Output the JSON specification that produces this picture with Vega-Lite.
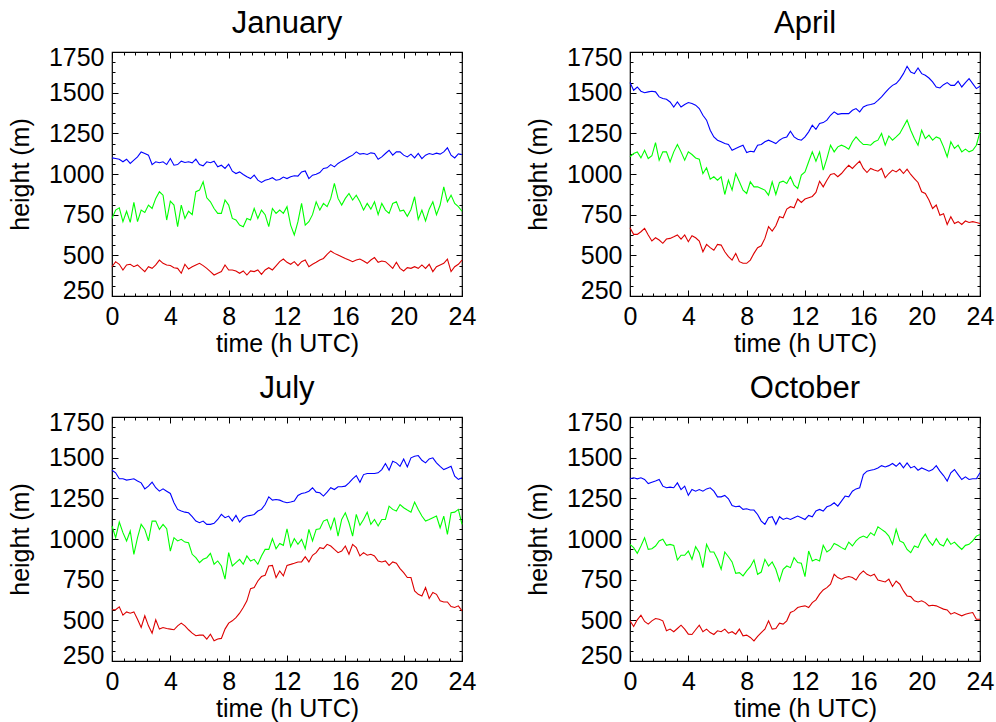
{
"$schema": "https://vega.github.io/schema/vega-lite/v6.json",
"background": "white",
"padding": {"left": 7, "top": 7, "right": 5, "bottom": 0},
"bounds": "flush",
"columns": 2,
"spacing": {"row": 121, "column": 168},
"config": {
 "font": "Liberation Sans",
 "view": {"stroke": "black", "strokeWidth": 1.2},
 "title": {"font": "Liberation Sans", "fontSize": 31, "fontWeight": "normal", "color": "black", "anchor": "middle", "frame": "group", "offset": 5},
 "axis": {"domain": false, "grid": false, "tickColor": "black", "tickWidth": 1, "labelFont": "Liberation Sans", "labelFontSize": 25, "labelColor": "black", "titleFont": "Liberation Sans", "titleFontSize": 25, "titleFontWeight": "normal", "titleColor": "black", "format": "d"}
},
"data": {"values": [
{"m":"Jan","t":0,"b":1099,"g":727,"r":430},{"m":"Jan","t":0.25,"b":1095,"g":778,"r":461},{"m":"Jan","t":0.5,"b":1091,"g":792,"r":445},{"m":"Jan","t":0.75,"b":1075,"g":707,"r":410},{"m":"Jan","t":1,"b":1091,"g":771,"r":441},{"m":"Jan","t":1.25,"b":1065,"g":703,"r":445},{"m":"Jan","t":1.5,"b":1085,"g":825,"r":430},{"m":"Jan","t":1.75,"b":1105,"g":707,"r":441},{"m":"Jan","t":2,"b":1136,"g":778,"r":420},{"m":"Jan","t":2.25,"b":1126,"g":764,"r":400},{"m":"Jan","t":2.5,"b":1116,"g":809,"r":430},{"m":"Jan","t":2.75,"b":1058,"g":788,"r":420},{"m":"Jan","t":3,"b":1075,"g":850,"r":441},{"m":"Jan","t":3.25,"b":1069,"g":891,"r":471},{"m":"Jan","t":3.5,"b":1075,"g":870,"r":451},{"m":"Jan","t":3.75,"b":1058,"g":717,"r":441},{"m":"Jan","t":4,"b":1095,"g":833,"r":437},{"m":"Jan","t":4.25,"b":1054,"g":809,"r":424},{"m":"Jan","t":4.5,"b":1058,"g":676,"r":420},{"m":"Jan","t":4.75,"b":1079,"g":809,"r":390},{"m":"Jan","t":5,"b":1071,"g":727,"r":445},{"m":"Jan","t":5.25,"b":1075,"g":771,"r":416},{"m":"Jan","t":5.5,"b":1069,"g":750,"r":430},{"m":"Jan","t":5.75,"b":1091,"g":891,"r":441},{"m":"Jan","t":6,"b":1058,"g":901,"r":451},{"m":"Jan","t":6.25,"b":1050,"g":952,"r":437},{"m":"Jan","t":6.5,"b":1075,"g":854,"r":420},{"m":"Jan","t":6.75,"b":1069,"g":829,"r":400},{"m":"Jan","t":7,"b":1079,"g":788,"r":379},{"m":"Jan","t":7.25,"b":1044,"g":758,"r":390},{"m":"Jan","t":7.5,"b":1054,"g":758,"r":400},{"m":"Jan","t":7.75,"b":1034,"g":840,"r":441},{"m":"Jan","t":8,"b":1060,"g":809,"r":410},{"m":"Jan","t":8.25,"b":1017,"g":727,"r":410},{"m":"Jan","t":8.5,"b":1003,"g":717,"r":404},{"m":"Jan","t":8.75,"b":1013,"g":686,"r":390},{"m":"Jan","t":9,"b":997,"g":676,"r":404},{"m":"Jan","t":9.25,"b":983,"g":727,"r":379},{"m":"Jan","t":9.5,"b":972,"g":717,"r":404},{"m":"Jan","t":9.75,"b":993,"g":788,"r":400},{"m":"Jan","t":10,"b":962,"g":727,"r":410},{"m":"Jan","t":10.25,"b":948,"g":778,"r":383},{"m":"Jan","t":10.5,"b":962,"g":750,"r":410},{"m":"Jan","t":10.75,"b":968,"g":676,"r":424},{"m":"Jan","t":11,"b":977,"g":788,"r":410},{"m":"Jan","t":11.25,"b":962,"g":758,"r":435},{"m":"Jan","t":11.5,"b":966,"g":778,"r":461},{"m":"Jan","t":11.75,"b":981,"g":758,"r":477},{"m":"Jan","t":12,"b":972,"g":799,"r":457},{"m":"Jan","t":12.25,"b":983,"g":686,"r":445},{"m":"Jan","t":12.5,"b":989,"g":625,"r":461},{"m":"Jan","t":12.75,"b":987,"g":707,"r":437},{"m":"Jan","t":13,"b":1013,"g":819,"r":461},{"m":"Jan","t":13.25,"b":1019,"g":686,"r":471},{"m":"Jan","t":13.5,"b":972,"g":707,"r":430},{"m":"Jan","t":13.75,"b":993,"g":750,"r":445},{"m":"Jan","t":14,"b":999,"g":829,"r":457},{"m":"Jan","t":14.25,"b":1009,"g":778,"r":471},{"m":"Jan","t":14.5,"b":1034,"g":819,"r":481},{"m":"Jan","t":14.75,"b":1038,"g":799,"r":506},{"m":"Jan","t":15,"b":1058,"g":850,"r":527},{"m":"Jan","t":15.25,"b":1044,"g":942,"r":512},{"m":"Jan","t":15.5,"b":1065,"g":850,"r":502},{"m":"Jan","t":15.75,"b":1079,"g":809,"r":492},{"m":"Jan","t":16,"b":1091,"g":850,"r":481},{"m":"Jan","t":16.25,"b":1105,"g":880,"r":471},{"m":"Jan","t":16.5,"b":1116,"g":840,"r":461},{"m":"Jan","t":16.75,"b":1136,"g":870,"r":471},{"m":"Jan","t":17,"b":1122,"g":829,"r":477},{"m":"Jan","t":17.25,"b":1126,"g":778,"r":465},{"m":"Jan","t":17.5,"b":1120,"g":819,"r":451},{"m":"Jan","t":17.75,"b":1130,"g":784,"r":471},{"m":"Jan","t":18,"b":1126,"g":829,"r":486},{"m":"Jan","t":18.25,"b":1091,"g":750,"r":457},{"m":"Jan","t":18.5,"b":1105,"g":819,"r":465},{"m":"Jan","t":18.75,"b":1126,"g":778,"r":461},{"m":"Jan","t":19,"b":1146,"g":758,"r":441},{"m":"Jan","t":19.25,"b":1116,"g":819,"r":420},{"m":"Jan","t":19.5,"b":1136,"g":829,"r":457},{"m":"Jan","t":19.75,"b":1136,"g":772,"r":420},{"m":"Jan","t":20,"b":1116,"g":778,"r":404},{"m":"Jan","t":20.25,"b":1105,"g":740,"r":424},{"m":"Jan","t":20.5,"b":1122,"g":782,"r":420},{"m":"Jan","t":20.75,"b":1099,"g":860,"r":430},{"m":"Jan","t":21,"b":1126,"g":721,"r":420},{"m":"Jan","t":21.25,"b":1095,"g":778,"r":441},{"m":"Jan","t":21.5,"b":1116,"g":711,"r":420},{"m":"Jan","t":21.75,"b":1126,"g":784,"r":445},{"m":"Jan","t":22,"b":1120,"g":829,"r":400},{"m":"Jan","t":22.25,"b":1128,"g":750,"r":430},{"m":"Jan","t":22.5,"b":1122,"g":809,"r":441},{"m":"Jan","t":22.75,"b":1136,"g":921,"r":451},{"m":"Jan","t":23,"b":1161,"g":829,"r":477},{"m":"Jan","t":23.25,"b":1116,"g":870,"r":400},{"m":"Jan","t":23.5,"b":1099,"g":819,"r":430},{"m":"Jan","t":23.75,"b":1124,"g":799,"r":445},{"m":"Jan","t":24,"b":1120,"g":771,"r":471},
{"m":"Apr","t":0,"b":1562,"g":1106,"r":670},{"m":"Apr","t":0.25,"b":1515,"g":1126,"r":629},{"m":"Apr","t":0.5,"b":1535,"g":1136,"r":629},{"m":"Apr","t":0.75,"b":1509,"g":1099,"r":645},{"m":"Apr","t":1,"b":1500,"g":1146,"r":666},{"m":"Apr","t":1.25,"b":1505,"g":1095,"r":625},{"m":"Apr","t":1.5,"b":1509,"g":1112,"r":588},{"m":"Apr","t":1.75,"b":1505,"g":1193,"r":608},{"m":"Apr","t":2,"b":1474,"g":1085,"r":594},{"m":"Apr","t":2.25,"b":1464,"g":1136,"r":574},{"m":"Apr","t":2.5,"b":1459,"g":1136,"r":600},{"m":"Apr","t":2.75,"b":1443,"g":1075,"r":604},{"m":"Apr","t":3,"b":1412,"g":1136,"r":614},{"m":"Apr","t":3.25,"b":1443,"g":1181,"r":625},{"m":"Apr","t":3.5,"b":1412,"g":1136,"r":600},{"m":"Apr","t":3.75,"b":1427,"g":1085,"r":625},{"m":"Apr","t":4,"b":1439,"g":1136,"r":584},{"m":"Apr","t":4.25,"b":1433,"g":1120,"r":621},{"m":"Apr","t":4.5,"b":1423,"g":1099,"r":608},{"m":"Apr","t":4.75,"b":1402,"g":1091,"r":588},{"m":"Apr","t":5,"b":1361,"g":1003,"r":522},{"m":"Apr","t":5.25,"b":1331,"g":1038,"r":567},{"m":"Apr","t":5.5,"b":1269,"g":968,"r":547},{"m":"Apr","t":5.75,"b":1228,"g":983,"r":531},{"m":"Apr","t":6,"b":1208,"g":962,"r":567},{"m":"Apr","t":6.25,"b":1198,"g":983,"r":563},{"m":"Apr","t":6.5,"b":1187,"g":874,"r":522},{"m":"Apr","t":6.75,"b":1181,"g":962,"r":492},{"m":"Apr","t":7,"b":1146,"g":901,"r":471},{"m":"Apr","t":7.25,"b":1157,"g":1003,"r":512},{"m":"Apr","t":7.5,"b":1167,"g":952,"r":461},{"m":"Apr","t":7.75,"b":1177,"g":901,"r":451},{"m":"Apr","t":8,"b":1132,"g":880,"r":451},{"m":"Apr","t":8.25,"b":1140,"g":952,"r":471},{"m":"Apr","t":8.5,"b":1136,"g":921,"r":512},{"m":"Apr","t":8.75,"b":1177,"g":921,"r":547},{"m":"Apr","t":9,"b":1181,"g":911,"r":559},{"m":"Apr","t":9.25,"b":1198,"g":901,"r":604},{"m":"Apr","t":9.5,"b":1208,"g":870,"r":676},{"m":"Apr","t":9.75,"b":1198,"g":952,"r":649},{"m":"Apr","t":10,"b":1187,"g":874,"r":682},{"m":"Apr","t":10.25,"b":1208,"g":948,"r":737},{"m":"Apr","t":10.5,"b":1222,"g":956,"r":731},{"m":"Apr","t":10.75,"b":1228,"g":942,"r":784},{"m":"Apr","t":11,"b":1263,"g":983,"r":799},{"m":"Apr","t":11.25,"b":1228,"g":932,"r":792},{"m":"Apr","t":11.5,"b":1214,"g":911,"r":846},{"m":"Apr","t":11.75,"b":1208,"g":993,"r":825},{"m":"Apr","t":12,"b":1228,"g":1013,"r":846},{"m":"Apr","t":12.25,"b":1259,"g":1075,"r":854},{"m":"Apr","t":12.5,"b":1300,"g":1136,"r":862},{"m":"Apr","t":12.75,"b":1275,"g":1079,"r":887},{"m":"Apr","t":13,"b":1310,"g":1136,"r":956},{"m":"Apr","t":13.25,"b":1316,"g":1024,"r":921},{"m":"Apr","t":13.5,"b":1331,"g":1095,"r":962},{"m":"Apr","t":13.75,"b":1361,"g":1177,"r":997},{"m":"Apr","t":14,"b":1382,"g":1136,"r":1003},{"m":"Apr","t":14.25,"b":1367,"g":1167,"r":983},{"m":"Apr","t":14.5,"b":1371,"g":1177,"r":1003},{"m":"Apr","t":14.75,"b":1371,"g":1167,"r":1030},{"m":"Apr","t":15,"b":1371,"g":1153,"r":1054},{"m":"Apr","t":15.25,"b":1392,"g":1198,"r":1034},{"m":"Apr","t":15.5,"b":1402,"g":1228,"r":1058},{"m":"Apr","t":15.75,"b":1382,"g":1202,"r":1079},{"m":"Apr","t":16,"b":1412,"g":1181,"r":1034},{"m":"Apr","t":16.25,"b":1423,"g":1181,"r":1009},{"m":"Apr","t":16.5,"b":1427,"g":1177,"r":1034},{"m":"Apr","t":16.75,"b":1433,"g":1198,"r":1024},{"m":"Apr","t":17,"b":1453,"g":1208,"r":1017},{"m":"Apr","t":17.25,"b":1474,"g":1249,"r":1034},{"m":"Apr","t":17.5,"b":1500,"g":1177,"r":977},{"m":"Apr","t":17.75,"b":1525,"g":1234,"r":1003},{"m":"Apr","t":18,"b":1545,"g":1208,"r":1024},{"m":"Apr","t":18.25,"b":1556,"g":1228,"r":1013},{"m":"Apr","t":18.5,"b":1582,"g":1249,"r":1030},{"m":"Apr","t":18.75,"b":1617,"g":1290,"r":1003},{"m":"Apr","t":19,"b":1662,"g":1331,"r":1030},{"m":"Apr","t":19.25,"b":1627,"g":1269,"r":997},{"m":"Apr","t":19.5,"b":1617,"g":1218,"r":972},{"m":"Apr","t":19.75,"b":1652,"g":1177,"r":948},{"m":"Apr","t":20,"b":1617,"g":1269,"r":891},{"m":"Apr","t":20.25,"b":1607,"g":1218,"r":880},{"m":"Apr","t":20.5,"b":1590,"g":1239,"r":840},{"m":"Apr","t":20.75,"b":1566,"g":1208,"r":788},{"m":"Apr","t":21,"b":1535,"g":1228,"r":809},{"m":"Apr","t":21.25,"b":1529,"g":1218,"r":747},{"m":"Apr","t":21.5,"b":1549,"g":1167,"r":756},{"m":"Apr","t":21.75,"b":1562,"g":1106,"r":690},{"m":"Apr","t":22,"b":1545,"g":1198,"r":737},{"m":"Apr","t":22.25,"b":1545,"g":1157,"r":696},{"m":"Apr","t":22.5,"b":1570,"g":1177,"r":707},{"m":"Apr","t":22.75,"b":1535,"g":1136,"r":690},{"m":"Apr","t":23,"b":1562,"g":1153,"r":711},{"m":"Apr","t":23.25,"b":1586,"g":1136,"r":702},{"m":"Apr","t":23.5,"b":1556,"g":1146,"r":707},{"m":"Apr","t":23.75,"b":1525,"g":1177,"r":702},{"m":"Apr","t":24,"b":1539,"g":1259,"r":696},
{"m":"Jul","t":0,"b":1423,"g":1080,"r":565},{"m":"Jul","t":0.25,"b":1407,"g":1008,"r":565},{"m":"Jul","t":0.5,"b":1370,"g":1104,"r":583},{"m":"Jul","t":0.75,"b":1370,"g":1039,"r":532},{"m":"Jul","t":1,"b":1362,"g":988,"r":552},{"m":"Jul","t":1.25,"b":1366,"g":1049,"r":544},{"m":"Jul","t":1.5,"b":1370,"g":906,"r":552},{"m":"Jul","t":1.75,"b":1356,"g":1008,"r":507},{"m":"Jul","t":2,"b":1345,"g":1090,"r":456},{"m":"Jul","t":2.25,"b":1308,"g":1059,"r":528},{"m":"Jul","t":2.5,"b":1325,"g":988,"r":466},{"m":"Jul","t":2.75,"b":1349,"g":1110,"r":421},{"m":"Jul","t":3,"b":1315,"g":1110,"r":503},{"m":"Jul","t":3.25,"b":1294,"g":1059,"r":446},{"m":"Jul","t":3.5,"b":1308,"g":1090,"r":456},{"m":"Jul","t":3.75,"b":1294,"g":1063,"r":450},{"m":"Jul","t":4,"b":1280,"g":926,"r":446},{"m":"Jul","t":4.25,"b":1223,"g":1008,"r":442},{"m":"Jul","t":4.5,"b":1182,"g":988,"r":466},{"m":"Jul","t":4.75,"b":1172,"g":998,"r":483},{"m":"Jul","t":5,"b":1165,"g":981,"r":466},{"m":"Jul","t":5.25,"b":1161,"g":977,"r":442},{"m":"Jul","t":5.5,"b":1137,"g":906,"r":421},{"m":"Jul","t":5.75,"b":1110,"g":885,"r":405},{"m":"Jul","t":6,"b":1100,"g":855,"r":409},{"m":"Jul","t":6.25,"b":1110,"g":875,"r":409},{"m":"Jul","t":6.5,"b":1090,"g":885,"r":385},{"m":"Jul","t":6.75,"b":1090,"g":912,"r":415},{"m":"Jul","t":7,"b":1096,"g":845,"r":374},{"m":"Jul","t":7.25,"b":1120,"g":865,"r":385},{"m":"Jul","t":7.5,"b":1151,"g":834,"r":389},{"m":"Jul","t":7.75,"b":1131,"g":753,"r":446},{"m":"Jul","t":8,"b":1141,"g":916,"r":483},{"m":"Jul","t":8.25,"b":1110,"g":834,"r":497},{"m":"Jul","t":8.5,"b":1145,"g":855,"r":517},{"m":"Jul","t":8.75,"b":1104,"g":875,"r":544},{"m":"Jul","t":9,"b":1131,"g":845,"r":579},{"m":"Jul","t":9.25,"b":1141,"g":896,"r":620},{"m":"Jul","t":9.5,"b":1145,"g":865,"r":695},{"m":"Jul","t":9.75,"b":1151,"g":875,"r":701},{"m":"Jul","t":10,"b":1172,"g":845,"r":742},{"m":"Jul","t":10.25,"b":1182,"g":896,"r":769},{"m":"Jul","t":10.5,"b":1212,"g":936,"r":777},{"m":"Jul","t":10.75,"b":1259,"g":936,"r":834},{"m":"Jul","t":11,"b":1239,"g":1002,"r":838},{"m":"Jul","t":11.25,"b":1243,"g":940,"r":763},{"m":"Jul","t":11.5,"b":1239,"g":973,"r":803},{"m":"Jul","t":11.75,"b":1229,"g":961,"r":773},{"m":"Jul","t":12,"b":1223,"g":1063,"r":838},{"m":"Jul","t":12.25,"b":1227,"g":953,"r":844},{"m":"Jul","t":12.5,"b":1233,"g":1002,"r":851},{"m":"Jul","t":12.75,"b":1268,"g":967,"r":859},{"m":"Jul","t":13,"b":1280,"g":998,"r":859},{"m":"Jul","t":13.25,"b":1284,"g":940,"r":891},{"m":"Jul","t":13.5,"b":1294,"g":1059,"r":859},{"m":"Jul","t":13.75,"b":1315,"g":988,"r":900},{"m":"Jul","t":14,"b":1288,"g":1059,"r":916},{"m":"Jul","t":14.25,"b":1284,"g":1063,"r":947},{"m":"Jul","t":14.5,"b":1264,"g":1110,"r":941},{"m":"Jul","t":14.75,"b":1288,"g":1120,"r":967},{"m":"Jul","t":15,"b":1315,"g":1059,"r":957},{"m":"Jul","t":15.25,"b":1304,"g":1131,"r":936},{"m":"Jul","t":15.5,"b":1321,"g":1018,"r":916},{"m":"Jul","t":15.75,"b":1321,"g":1120,"r":926},{"m":"Jul","t":16,"b":1325,"g":1161,"r":957},{"m":"Jul","t":16.25,"b":1345,"g":1100,"r":906},{"m":"Jul","t":16.5,"b":1370,"g":1018,"r":967},{"m":"Jul","t":16.75,"b":1390,"g":1151,"r":947},{"m":"Jul","t":17,"b":1349,"g":1084,"r":896},{"m":"Jul","t":17.25,"b":1396,"g":1120,"r":916},{"m":"Jul","t":17.5,"b":1403,"g":1165,"r":900},{"m":"Jul","t":17.75,"b":1403,"g":1090,"r":906},{"m":"Jul","t":18,"b":1403,"g":1120,"r":896},{"m":"Jul","t":18.25,"b":1407,"g":1080,"r":865},{"m":"Jul","t":18.5,"b":1427,"g":1120,"r":859},{"m":"Jul","t":18.75,"b":1464,"g":1120,"r":865},{"m":"Jul","t":19,"b":1423,"g":1202,"r":838},{"m":"Jul","t":19.25,"b":1478,"g":1182,"r":859},{"m":"Jul","t":19.5,"b":1468,"g":1172,"r":851},{"m":"Jul","t":19.75,"b":1447,"g":1212,"r":818},{"m":"Jul","t":20,"b":1492,"g":1192,"r":793},{"m":"Jul","t":20.25,"b":1443,"g":1178,"r":763},{"m":"Jul","t":20.5,"b":1499,"g":1165,"r":763},{"m":"Jul","t":20.75,"b":1509,"g":1227,"r":681},{"m":"Jul","t":21,"b":1513,"g":1182,"r":660},{"m":"Jul","t":21.25,"b":1484,"g":1141,"r":650},{"m":"Jul","t":21.5,"b":1468,"g":1110,"r":701},{"m":"Jul","t":21.75,"b":1492,"g":1120,"r":634},{"m":"Jul","t":22,"b":1499,"g":1131,"r":671},{"m":"Jul","t":22.25,"b":1468,"g":1141,"r":660},{"m":"Jul","t":22.5,"b":1447,"g":1069,"r":620},{"m":"Jul","t":22.75,"b":1427,"g":1141,"r":613},{"m":"Jul","t":23,"b":1437,"g":1028,"r":613},{"m":"Jul","t":23.25,"b":1447,"g":1161,"r":585},{"m":"Jul","t":23.5,"b":1386,"g":1165,"r":579},{"m":"Jul","t":23.75,"b":1366,"g":1182,"r":589},{"m":"Jul","t":24,"b":1376,"g":1090,"r":558},
{"m":"Oct","t":0,"b":1370,"g":967,"r":497},{"m":"Oct","t":0.25,"b":1376,"g":947,"r":462},{"m":"Oct","t":0.5,"b":1370,"g":912,"r":503},{"m":"Oct","t":0.75,"b":1376,"g":957,"r":532},{"m":"Oct","t":1,"b":1366,"g":1008,"r":493},{"m":"Oct","t":1.25,"b":1341,"g":936,"r":477},{"m":"Oct","t":1.5,"b":1349,"g":940,"r":497},{"m":"Oct","t":1.75,"b":1356,"g":957,"r":511},{"m":"Oct","t":2,"b":1366,"g":988,"r":507},{"m":"Oct","t":2.25,"b":1325,"g":998,"r":497},{"m":"Oct","t":2.5,"b":1315,"g":961,"r":436},{"m":"Oct","t":2.75,"b":1319,"g":967,"r":446},{"m":"Oct","t":3,"b":1315,"g":961,"r":430},{"m":"Oct","t":3.25,"b":1345,"g":871,"r":450},{"m":"Oct","t":3.5,"b":1304,"g":900,"r":470},{"m":"Oct","t":3.75,"b":1325,"g":900,"r":446},{"m":"Oct","t":4,"b":1268,"g":926,"r":415},{"m":"Oct","t":4.25,"b":1304,"g":875,"r":413},{"m":"Oct","t":4.5,"b":1294,"g":953,"r":442},{"m":"Oct","t":4.75,"b":1304,"g":916,"r":470},{"m":"Oct","t":5,"b":1294,"g":824,"r":430},{"m":"Oct","t":5.25,"b":1308,"g":967,"r":446},{"m":"Oct","t":5.5,"b":1315,"g":920,"r":425},{"m":"Oct","t":5.75,"b":1294,"g":920,"r":413},{"m":"Oct","t":6,"b":1259,"g":875,"r":436},{"m":"Oct","t":6.25,"b":1259,"g":814,"r":430},{"m":"Oct","t":6.5,"b":1268,"g":920,"r":446},{"m":"Oct","t":6.75,"b":1247,"g":891,"r":421},{"m":"Oct","t":7,"b":1206,"g":859,"r":430},{"m":"Oct","t":7.25,"b":1198,"g":789,"r":415},{"m":"Oct","t":7.5,"b":1202,"g":793,"r":446},{"m":"Oct","t":7.75,"b":1182,"g":773,"r":405},{"m":"Oct","t":8,"b":1186,"g":804,"r":409},{"m":"Oct","t":8.25,"b":1178,"g":830,"r":395},{"m":"Oct","t":8.5,"b":1178,"g":871,"r":374},{"m":"Oct","t":8.75,"b":1151,"g":783,"r":401},{"m":"Oct","t":9,"b":1110,"g":797,"r":425},{"m":"Oct","t":9.25,"b":1090,"g":875,"r":446},{"m":"Oct","t":9.5,"b":1131,"g":834,"r":497},{"m":"Oct","t":9.75,"b":1137,"g":859,"r":446},{"m":"Oct","t":10,"b":1090,"g":814,"r":450},{"m":"Oct","t":10.25,"b":1137,"g":742,"r":483},{"m":"Oct","t":10.5,"b":1120,"g":814,"r":477},{"m":"Oct","t":10.75,"b":1129,"g":834,"r":497},{"m":"Oct","t":11,"b":1120,"g":824,"r":548},{"m":"Oct","t":11.25,"b":1131,"g":885,"r":558},{"m":"Oct","t":11.5,"b":1141,"g":855,"r":579},{"m":"Oct","t":11.75,"b":1131,"g":851,"r":585},{"m":"Oct","t":12,"b":1120,"g":769,"r":589},{"m":"Oct","t":12.25,"b":1145,"g":926,"r":579},{"m":"Oct","t":12.5,"b":1137,"g":865,"r":609},{"m":"Oct","t":12.75,"b":1172,"g":875,"r":626},{"m":"Oct","t":13,"b":1182,"g":865,"r":661},{"m":"Oct","t":13.25,"b":1172,"g":961,"r":687},{"m":"Oct","t":13.5,"b":1198,"g":920,"r":701},{"m":"Oct","t":13.75,"b":1206,"g":936,"r":722},{"m":"Oct","t":14,"b":1223,"g":973,"r":783},{"m":"Oct","t":14.25,"b":1202,"g":961,"r":763},{"m":"Oct","t":14.5,"b":1233,"g":947,"r":753},{"m":"Oct","t":14.75,"b":1264,"g":936,"r":763},{"m":"Oct","t":15,"b":1259,"g":981,"r":769},{"m":"Oct","t":15.25,"b":1294,"g":957,"r":763},{"m":"Oct","t":15.5,"b":1308,"g":988,"r":748},{"m":"Oct","t":15.75,"b":1315,"g":1008,"r":783},{"m":"Oct","t":16,"b":1396,"g":1018,"r":804},{"m":"Oct","t":16.25,"b":1417,"g":1008,"r":783},{"m":"Oct","t":16.5,"b":1423,"g":1039,"r":773},{"m":"Oct","t":16.75,"b":1427,"g":1022,"r":783},{"m":"Oct","t":17,"b":1437,"g":1075,"r":748},{"m":"Oct","t":17.25,"b":1451,"g":1059,"r":742},{"m":"Oct","t":17.5,"b":1443,"g":1043,"r":736},{"m":"Oct","t":17.75,"b":1451,"g":1018,"r":753},{"m":"Oct","t":18,"b":1464,"g":967,"r":708},{"m":"Oct","t":18.25,"b":1447,"g":1059,"r":742},{"m":"Oct","t":18.5,"b":1468,"g":988,"r":722},{"m":"Oct","t":18.75,"b":1437,"g":977,"r":681},{"m":"Oct","t":19,"b":1468,"g":936,"r":650},{"m":"Oct","t":19.25,"b":1437,"g":916,"r":646},{"m":"Oct","t":19.5,"b":1447,"g":957,"r":620},{"m":"Oct","t":19.75,"b":1423,"g":947,"r":613},{"m":"Oct","t":20,"b":1437,"g":998,"r":620},{"m":"Oct","t":20.25,"b":1427,"g":1030,"r":609},{"m":"Oct","t":20.5,"b":1417,"g":988,"r":589},{"m":"Oct","t":20.75,"b":1427,"g":961,"r":593},{"m":"Oct","t":21,"b":1451,"g":1002,"r":589},{"m":"Oct","t":21.25,"b":1417,"g":967,"r":579},{"m":"Oct","t":21.5,"b":1390,"g":957,"r":569},{"m":"Oct","t":21.75,"b":1356,"g":1002,"r":564},{"m":"Oct","t":22,"b":1407,"g":967,"r":538},{"m":"Oct","t":22.25,"b":1427,"g":981,"r":548},{"m":"Oct","t":22.5,"b":1396,"g":957,"r":538},{"m":"Oct","t":22.75,"b":1366,"g":936,"r":528},{"m":"Oct","t":23,"b":1382,"g":961,"r":538},{"m":"Oct","t":23.25,"b":1366,"g":967,"r":544},{"m":"Oct","t":23.5,"b":1370,"g":988,"r":548},{"m":"Oct","t":23.75,"b":1370,"g":1018,"r":507},{"m":"Oct","t":24,"b":1407,"g":1028,"r":507}
]},
"concat": [
{"title": "January", "width": 350, "height": 244,
 "transform": [{"filter": "datum.m === 'Jan'"}, {"fold": ["b", "g", "r"], "as": ["s", "v"]}],
 "resolve": {"scale": {"x": "shared", "y": "shared"}, "axis": {"x": "independent", "y": "independent"}},
 "layer": [
  {"mark": {"type": "line", "strokeWidth": 1.1}, "encoding": {
   "x": {"field": "t", "type": "quantitative", "scale": {"domain": [0, 24], "nice": false, "zero": false}, "axis": {"orient": "bottom", "values": [0, 4, 8, 12, 16, 20, 24], "tickSize": -6, "labelPadding": 14, "labelFlush": false, "title": "time (h UTC)", "titlePadding": 2}},
   "y": {"field": "v", "type": "quantitative", "scale": {"domain": [250, 1750], "nice": false, "zero": false}, "axis": {"orient": "left", "values": [250, 500, 750, 1000, 1250, 1500, 1750], "tickSize": -6, "labelPadding": 14, "labelFlush": false, "labelOffset": {"condition": [{"test": "datum.value === 1750", "value": 5}, {"test": "datum.value === 250", "value": -6}], "value": 0}, "title": "height (m)", "titlePadding": 15}},
   "color": {"field": "s", "type": "nominal", "scale": {"domain": ["b", "g", "r"], "range": ["#0000ff", "#00ff00", "#dd0000"]}, "legend": null}}},
  {"mark": {"type": "line", "strokeOpacity": 0}, "encoding": {
   "x": {"field": "t", "type": "quantitative", "axis": {"orient": "top", "values": [0, 4, 8, 12, 16, 20, 24], "tickSize": -6, "labels": false, "title": null}},
   "y": {"field": "v", "type": "quantitative", "axis": {"orient": "right", "values": [250, 500, 750, 1000, 1250, 1500, 1750], "tickSize": -6, "labels": false, "title": null}},
   "detail": {"field": "s"}}},
  {"mark": {"type": "line", "strokeOpacity": 0}, "encoding": {
   "x": {"field": "t", "type": "quantitative", "axis": {"orient": "bottom", "values": [0, 0.8, 1.6, 2.4, 3.2, 4, 4.8, 5.6, 6.4, 7.2, 8, 8.8, 9.6, 10.4, 11.2, 12, 12.8, 13.6, 14.4, 15.2, 16, 16.8, 17.6, 18.4, 19.2, 20, 20.8, 21.6, 22.4, 23.2, 24], "tickSize": -3, "labels": false, "title": null}},
   "y": {"field": "v", "type": "quantitative", "axis": {"orient": "left", "values": [250, 312.5, 375, 437.5, 500, 562.5, 625, 687.5, 750, 812.5, 875, 937.5, 1000, 1062.5, 1125, 1187.5, 1250, 1312.5, 1375, 1437.5, 1500, 1562.5, 1625, 1687.5, 1750], "tickSize": -3, "labels": false, "title": null}},
   "detail": {"field": "s"}}},
  {"mark": {"type": "line", "strokeOpacity": 0}, "encoding": {
   "x": {"field": "t", "type": "quantitative", "axis": {"orient": "top", "values": [0, 0.8, 1.6, 2.4, 3.2, 4, 4.8, 5.6, 6.4, 7.2, 8, 8.8, 9.6, 10.4, 11.2, 12, 12.8, 13.6, 14.4, 15.2, 16, 16.8, 17.6, 18.4, 19.2, 20, 20.8, 21.6, 22.4, 23.2, 24], "tickSize": -3, "labels": false, "title": null}},
   "y": {"field": "v", "type": "quantitative", "axis": {"orient": "right", "values": [250, 312.5, 375, 437.5, 500, 562.5, 625, 687.5, 750, 812.5, 875, 937.5, 1000, 1062.5, 1125, 1187.5, 1250, 1312.5, 1375, 1437.5, 1500, 1562.5, 1625, 1687.5, 1750], "tickSize": -3, "labels": false, "title": null}},
   "detail": {"field": "s"}}}
 ]},
{"title": "April", "width": 350, "height": 244,
 "transform": [{"filter": "datum.m === 'Apr'"}, {"fold": ["b", "g", "r"], "as": ["s", "v"]}],
 "resolve": {"scale": {"x": "shared", "y": "shared"}, "axis": {"x": "independent", "y": "independent"}},
 "layer": [
  {"mark": {"type": "line", "strokeWidth": 1.1}, "encoding": {
   "x": {"field": "t", "type": "quantitative", "scale": {"domain": [0, 24], "nice": false, "zero": false}, "axis": {"orient": "bottom", "values": [0, 4, 8, 12, 16, 20, 24], "tickSize": -6, "labelPadding": 14, "labelFlush": false, "title": "time (h UTC)", "titlePadding": 2}},
   "y": {"field": "v", "type": "quantitative", "scale": {"domain": [250, 1750], "nice": false, "zero": false}, "axis": {"orient": "left", "values": [250, 500, 750, 1000, 1250, 1500, 1750], "tickSize": -6, "labelPadding": 14, "labelFlush": false, "labelOffset": {"condition": [{"test": "datum.value === 1750", "value": 5}, {"test": "datum.value === 250", "value": -6}], "value": 0}, "title": "height (m)", "titlePadding": 15}},
   "color": {"field": "s", "type": "nominal", "scale": {"domain": ["b", "g", "r"], "range": ["#0000ff", "#00ff00", "#dd0000"]}, "legend": null}}},
  {"mark": {"type": "line", "strokeOpacity": 0}, "encoding": {
   "x": {"field": "t", "type": "quantitative", "axis": {"orient": "top", "values": [0, 4, 8, 12, 16, 20, 24], "tickSize": -6, "labels": false, "title": null}},
   "y": {"field": "v", "type": "quantitative", "axis": {"orient": "right", "values": [250, 500, 750, 1000, 1250, 1500, 1750], "tickSize": -6, "labels": false, "title": null}},
   "detail": {"field": "s"}}},
  {"mark": {"type": "line", "strokeOpacity": 0}, "encoding": {
   "x": {"field": "t", "type": "quantitative", "axis": {"orient": "bottom", "values": [0, 0.8, 1.6, 2.4, 3.2, 4, 4.8, 5.6, 6.4, 7.2, 8, 8.8, 9.6, 10.4, 11.2, 12, 12.8, 13.6, 14.4, 15.2, 16, 16.8, 17.6, 18.4, 19.2, 20, 20.8, 21.6, 22.4, 23.2, 24], "tickSize": -3, "labels": false, "title": null}},
   "y": {"field": "v", "type": "quantitative", "axis": {"orient": "left", "values": [250, 312.5, 375, 437.5, 500, 562.5, 625, 687.5, 750, 812.5, 875, 937.5, 1000, 1062.5, 1125, 1187.5, 1250, 1312.5, 1375, 1437.5, 1500, 1562.5, 1625, 1687.5, 1750], "tickSize": -3, "labels": false, "title": null}},
   "detail": {"field": "s"}}},
  {"mark": {"type": "line", "strokeOpacity": 0}, "encoding": {
   "x": {"field": "t", "type": "quantitative", "axis": {"orient": "top", "values": [0, 0.8, 1.6, 2.4, 3.2, 4, 4.8, 5.6, 6.4, 7.2, 8, 8.8, 9.6, 10.4, 11.2, 12, 12.8, 13.6, 14.4, 15.2, 16, 16.8, 17.6, 18.4, 19.2, 20, 20.8, 21.6, 22.4, 23.2, 24], "tickSize": -3, "labels": false, "title": null}},
   "y": {"field": "v", "type": "quantitative", "axis": {"orient": "right", "values": [250, 312.5, 375, 437.5, 500, 562.5, 625, 687.5, 750, 812.5, 875, 937.5, 1000, 1062.5, 1125, 1187.5, 1250, 1312.5, 1375, 1437.5, 1500, 1562.5, 1625, 1687.5, 1750], "tickSize": -3, "labels": false, "title": null}},
   "detail": {"field": "s"}}}
 ]},
{"title": "July", "width": 350, "height": 244,
 "transform": [{"filter": "datum.m === 'Jul'"}, {"fold": ["b", "g", "r"], "as": ["s", "v"]}],
 "resolve": {"scale": {"x": "shared", "y": "shared"}, "axis": {"x": "independent", "y": "independent"}},
 "layer": [
  {"mark": {"type": "line", "strokeWidth": 1.1}, "encoding": {
   "x": {"field": "t", "type": "quantitative", "scale": {"domain": [0, 24], "nice": false, "zero": false}, "axis": {"orient": "bottom", "values": [0, 4, 8, 12, 16, 20, 24], "tickSize": -6, "labelPadding": 14, "labelFlush": false, "title": "time (h UTC)", "titlePadding": 2}},
   "y": {"field": "v", "type": "quantitative", "scale": {"domain": [250, 1750], "nice": false, "zero": false}, "axis": {"orient": "left", "values": [250, 500, 750, 1000, 1250, 1500, 1750], "tickSize": -6, "labelPadding": 14, "labelFlush": false, "labelOffset": {"condition": [{"test": "datum.value === 1750", "value": 5}, {"test": "datum.value === 250", "value": -6}], "value": 0}, "title": "height (m)", "titlePadding": 15}},
   "color": {"field": "s", "type": "nominal", "scale": {"domain": ["b", "g", "r"], "range": ["#0000ff", "#00ff00", "#dd0000"]}, "legend": null}}},
  {"mark": {"type": "line", "strokeOpacity": 0}, "encoding": {
   "x": {"field": "t", "type": "quantitative", "axis": {"orient": "top", "values": [0, 4, 8, 12, 16, 20, 24], "tickSize": -6, "labels": false, "title": null}},
   "y": {"field": "v", "type": "quantitative", "axis": {"orient": "right", "values": [250, 500, 750, 1000, 1250, 1500, 1750], "tickSize": -6, "labels": false, "title": null}},
   "detail": {"field": "s"}}},
  {"mark": {"type": "line", "strokeOpacity": 0}, "encoding": {
   "x": {"field": "t", "type": "quantitative", "axis": {"orient": "bottom", "values": [0, 0.8, 1.6, 2.4, 3.2, 4, 4.8, 5.6, 6.4, 7.2, 8, 8.8, 9.6, 10.4, 11.2, 12, 12.8, 13.6, 14.4, 15.2, 16, 16.8, 17.6, 18.4, 19.2, 20, 20.8, 21.6, 22.4, 23.2, 24], "tickSize": -3, "labels": false, "title": null}},
   "y": {"field": "v", "type": "quantitative", "axis": {"orient": "left", "values": [250, 312.5, 375, 437.5, 500, 562.5, 625, 687.5, 750, 812.5, 875, 937.5, 1000, 1062.5, 1125, 1187.5, 1250, 1312.5, 1375, 1437.5, 1500, 1562.5, 1625, 1687.5, 1750], "tickSize": -3, "labels": false, "title": null}},
   "detail": {"field": "s"}}},
  {"mark": {"type": "line", "strokeOpacity": 0}, "encoding": {
   "x": {"field": "t", "type": "quantitative", "axis": {"orient": "top", "values": [0, 0.8, 1.6, 2.4, 3.2, 4, 4.8, 5.6, 6.4, 7.2, 8, 8.8, 9.6, 10.4, 11.2, 12, 12.8, 13.6, 14.4, 15.2, 16, 16.8, 17.6, 18.4, 19.2, 20, 20.8, 21.6, 22.4, 23.2, 24], "tickSize": -3, "labels": false, "title": null}},
   "y": {"field": "v", "type": "quantitative", "axis": {"orient": "right", "values": [250, 312.5, 375, 437.5, 500, 562.5, 625, 687.5, 750, 812.5, 875, 937.5, 1000, 1062.5, 1125, 1187.5, 1250, 1312.5, 1375, 1437.5, 1500, 1562.5, 1625, 1687.5, 1750], "tickSize": -3, "labels": false, "title": null}},
   "detail": {"field": "s"}}}
 ]},
{"title": "October", "width": 350, "height": 244,
 "transform": [{"filter": "datum.m === 'Oct'"}, {"fold": ["b", "g", "r"], "as": ["s", "v"]}],
 "resolve": {"scale": {"x": "shared", "y": "shared"}, "axis": {"x": "independent", "y": "independent"}},
 "layer": [
  {"mark": {"type": "line", "strokeWidth": 1.1}, "encoding": {
   "x": {"field": "t", "type": "quantitative", "scale": {"domain": [0, 24], "nice": false, "zero": false}, "axis": {"orient": "bottom", "values": [0, 4, 8, 12, 16, 20, 24], "tickSize": -6, "labelPadding": 14, "labelFlush": false, "title": "time (h UTC)", "titlePadding": 2}},
   "y": {"field": "v", "type": "quantitative", "scale": {"domain": [250, 1750], "nice": false, "zero": false}, "axis": {"orient": "left", "values": [250, 500, 750, 1000, 1250, 1500, 1750], "tickSize": -6, "labelPadding": 14, "labelFlush": false, "labelOffset": {"condition": [{"test": "datum.value === 1750", "value": 5}, {"test": "datum.value === 250", "value": -6}], "value": 0}, "title": "height (m)", "titlePadding": 15}},
   "color": {"field": "s", "type": "nominal", "scale": {"domain": ["b", "g", "r"], "range": ["#0000ff", "#00ff00", "#dd0000"]}, "legend": null}}},
  {"mark": {"type": "line", "strokeOpacity": 0}, "encoding": {
   "x": {"field": "t", "type": "quantitative", "axis": {"orient": "top", "values": [0, 4, 8, 12, 16, 20, 24], "tickSize": -6, "labels": false, "title": null}},
   "y": {"field": "v", "type": "quantitative", "axis": {"orient": "right", "values": [250, 500, 750, 1000, 1250, 1500, 1750], "tickSize": -6, "labels": false, "title": null}},
   "detail": {"field": "s"}}},
  {"mark": {"type": "line", "strokeOpacity": 0}, "encoding": {
   "x": {"field": "t", "type": "quantitative", "axis": {"orient": "bottom", "values": [0, 0.8, 1.6, 2.4, 3.2, 4, 4.8, 5.6, 6.4, 7.2, 8, 8.8, 9.6, 10.4, 11.2, 12, 12.8, 13.6, 14.4, 15.2, 16, 16.8, 17.6, 18.4, 19.2, 20, 20.8, 21.6, 22.4, 23.2, 24], "tickSize": -3, "labels": false, "title": null}},
   "y": {"field": "v", "type": "quantitative", "axis": {"orient": "left", "values": [250, 312.5, 375, 437.5, 500, 562.5, 625, 687.5, 750, 812.5, 875, 937.5, 1000, 1062.5, 1125, 1187.5, 1250, 1312.5, 1375, 1437.5, 1500, 1562.5, 1625, 1687.5, 1750], "tickSize": -3, "labels": false, "title": null}},
   "detail": {"field": "s"}}},
  {"mark": {"type": "line", "strokeOpacity": 0}, "encoding": {
   "x": {"field": "t", "type": "quantitative", "axis": {"orient": "top", "values": [0, 0.8, 1.6, 2.4, 3.2, 4, 4.8, 5.6, 6.4, 7.2, 8, 8.8, 9.6, 10.4, 11.2, 12, 12.8, 13.6, 14.4, 15.2, 16, 16.8, 17.6, 18.4, 19.2, 20, 20.8, 21.6, 22.4, 23.2, 24], "tickSize": -3, "labels": false, "title": null}},
   "y": {"field": "v", "type": "quantitative", "axis": {"orient": "right", "values": [250, 312.5, 375, 437.5, 500, 562.5, 625, 687.5, 750, 812.5, 875, 937.5, 1000, 1062.5, 1125, 1187.5, 1250, 1312.5, 1375, 1437.5, 1500, 1562.5, 1625, 1687.5, 1750], "tickSize": -3, "labels": false, "title": null}},
   "detail": {"field": "s"}}}
 ]}
]
}
